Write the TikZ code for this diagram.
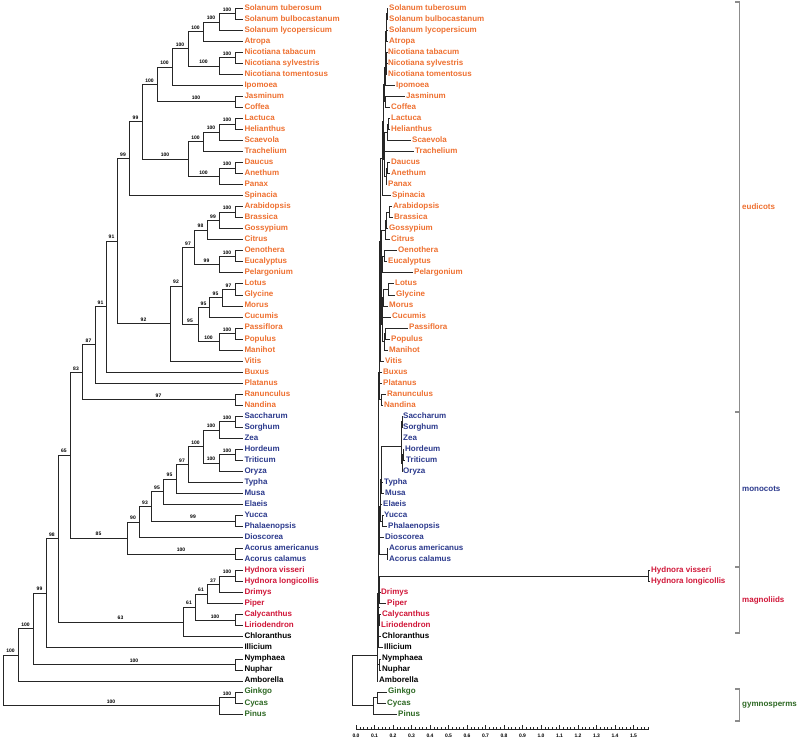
\documentclass[tikz,border=0pt]{standalone}
\usepackage{fontspec}
\setmainfont{Liberation Sans}
\usetikzlibrary{calc}

\definecolor{eud}{RGB}{238,112,48}
\definecolor{mon}{RGB}{43,57,140}
\definecolor{mag}{RGB}{208,22,56}
\definecolor{gym}{RGB}{45,104,35}
\definecolor{basal}{RGB}{0,0,0}

\tikzset{
  branch/.style={draw=black!85, line width=0.55pt},
  leaf/.style={anchor=west, inner sep=1pt, font=\fontsize{8}{9.6}\selectfont\bfseries,
    text height=5.8pt, text depth=1.6pt},
  boot/.style={pos=.75, above=1.2pt, inner sep=0.6pt, font=\fontsize{5}{6}\selectfont\bfseries},
  cladelab/.style={anchor=west, inner sep=0pt, font=\fontsize{8}{9.6}\selectfont\bfseries},
  bracket/.style={draw=black!45, line width=1.1pt},
  scalelab/.style={inner sep=0pt, font=\fontsize{5}{6}\selectfont\bfseries}
}

% clade: name, x, first child, its support, second child, its support
\newcommand\clade[6]{%
  \path let \p1=(#3), \p2=(#5) in coordinate (#1) at (#2pt,{0.5*\y1+0.5*\y2});
  \draw[branch] (#1) |- node[boot]{#4} (#3);
  \draw[branch] (#1) |- node[boot]{#6} (#5);
}

\begin{document}
\begin{tikzpicture}[x=1pt, y=-1pt]
\useasboundingbox (0,0) rectangle (800,740);

% taxa, left (cladogram) and right (phylogram)
\foreach \n/\lab/\col/\rx [count=\i from 0] in {
  soltub/Solanum tuberosum/eud/389, solbul/Solanum bulbocastanum/eud/389,
  sollyc/Solanum lycopersicum/eud/389, atropa/Atropa/eud/389,
  nictab/Nicotiana tabacum/eud/388, nicsyl/Nicotiana sylvestris/eud/388,
  nictom/Nicotiana tomentosus/eud/388, ipomoea/Ipomoea/eud/396,
  jasmin/Jasminum/eud/406, coffea/Coffea/eud/391,
  lactuca/Lactuca/eud/391, helian/Helianthus/eud/391,
  scaev/Scaevola/eud/412, trach/Trachelium/eud/415,
  daucus/Daucus/eud/391, aneth/Anethum/eud/391,
  panax/Panax/eud/388, spinac/Spinacia/eud/392,
  arabid/Arabidopsis/eud/393, brass/Brassica/eud/394,
  gossyp/Gossypium/eud/389, citrus/Citrus/eud/391,
  oenoth/Oenothera/eud/398, eucal/Eucalyptus/eud/388,
  pelarg/Pelargonium/eud/414, lotus/Lotus/eud/395,
  glycine/Glycine/eud/396, morus/Morus/eud/389,
  cucum/Cucumis/eud/392, passif/Passiflora/eud/409,
  populus/Populus/eud/391, manihot/Manihot/eud/389,
  vitis/Vitis/eud/385, buxus/Buxus/eud/383,
  platan/Platanus/eud/383, ranunc/Ranunculus/eud/387,
  nandina/Nandina/eud/384, sacch/Saccharum/mon/403,
  sorgh/Sorghum/mon/403, zea/Zea/mon/403,
  hordeum/Hordeum/mon/405, tritic/Triticum/mon/406,
  oryza/Oryza/mon/403, typha/Typha/mon/384,
  musa/Musa/mon/385, elaeis/Elaeis/mon/383,
  yucca/Yucca/mon/384, phalaen/Phalaenopsis/mon/388,
  diosc/Dioscorea/mon/385, acoram/Acorus americanus/mon/389,
  acorcal/Acorus calamus/mon/389, hydvis/Hydnora visseri/mag/651,
  hydlon/Hydnora longicollis/mag/651, drimys/Drimys/mag/381,
  piper/Piper/mag/387, calyc/Calycanthus/mag/382,
  lirio/Liriodendron/mag/381, chlor/Chloranthus/basal/382,
  illic/Illicium/basal/384, nymph/Nymphaea/basal/382,
  nuphar/Nuphar/basal/382, ambor/Amborella/basal/379,
  ginkgo/Ginkgo/gym/388, cycas/Cycas/gym/387, pinus/Pinus/gym/398}
{
  \node[leaf, text=\col] (\n) at (243.3,{8+11.03*\i}) {\lab};
  \node[leaf, text=\col] (r\n) at ({\rx-1},{8+11.03*\i}) {\lab};
}

% left tree with bootstrap values
\clade{a1}{235}{soltub.west}{}{solbul.west}{}
\clade{a2}{219}{a1}{100}{sollyc.west}{}
\clade{a3}{203}{a2}{100}{atropa.west}{}
\clade{a4}{235}{nictab.west}{}{nicsyl.west}{}
\clade{a5}{219}{a4}{100}{nictom.west}{}
\clade{a6}{188}{a3}{100}{a5}{100}
\clade{a7}{172}{a6}{100}{ipomoea.west}{}
\clade{a8}{235}{jasmin.west}{}{coffea.west}{}
\clade{a9}{157}{a7}{100}{a8}{100}
\clade{b1}{235}{lactuca.west}{}{helian.west}{}
\clade{b2}{219}{b1}{100}{scaev.west}{}
\clade{b3}{203}{b2}{100}{trach.west}{}
\clade{b4}{235}{daucus.west}{}{aneth.west}{}
\clade{b5}{219}{b4}{100}{panax.west}{}
\clade{b6}{188}{b3}{100}{b5}{100}
\clade{b7}{142}{a9}{100}{b6}{100}
\clade{b8}{129}{b7}{99}{spinac.west}{}
\clade{c1}{235}{arabid.west}{}{brass.west}{}
\clade{c2}{219}{c1}{100}{gossyp.west}{}
\clade{c3}{207}{c2}{99}{citrus.west}{}
\clade{c4}{235}{oenoth.west}{}{eucal.west}{}
\clade{c5}{219}{c4}{100}{pelarg.west}{}
\clade{c6}{194}{c3}{98}{c5}{99}
\clade{c7}{235}{lotus.west}{}{glycine.west}{}
\clade{c8}{222}{c7}{97}{morus.west}{}
\clade{c9}{209}{c8}{95}{cucum.west}{}
\clade{c10}{235}{passif.west}{}{populus.west}{}
\clade{c11}{219}{c10}{100}{manihot.west}{}
\clade{c12}{198}{c9}{95}{c11}{100}
\clade{c13}{182}{c6}{97}{c12}{95}
\clade{c14}{170}{c13}{92}{vitis.west}{}
\clade{d1}{117}{b8}{99}{c14}{92}
\clade{d2}{106}{d1}{91}{buxus.west}{}
\clade{d3}{95}{d2}{91}{platan.west}{}
\clade{d4}{235}{ranunc.west}{}{nandina.west}{}
\clade{d5}{82}{d3}{87}{d4}{97}
\clade{e1}{235}{sacch.west}{}{sorgh.west}{}
\clade{e2}{219}{e1}{100}{zea.west}{}
\clade{e3}{235}{hordeum.west}{}{tritic.west}{}
\clade{e4}{219}{e3}{100}{oryza.west}{}
\clade{e5}{203}{e2}{100}{e4}{100}
\clade{e6}{188}{e5}{100}{typha.west}{}
\clade{e7}{176}{e6}{97}{musa.west}{}
\clade{e8}{163}{e7}{95}{elaeis.west}{}
\clade{e9}{235}{yucca.west}{}{phalaen.west}{}
\clade{e10}{151}{e8}{95}{e9}{99}
\clade{e11}{139}{e10}{93}{diosc.west}{}
\clade{e12}{235}{acoram.west}{}{acorcal.west}{}
\clade{e13}{127}{e11}{90}{e12}{100}
\clade{f1}{235}{hydvis.west}{}{hydlon.west}{}
\clade{f2}{219}{f1}{100}{drimys.west}{}
\clade{f3}{207}{f2}{37}{piper.west}{}
\clade{f4}{235}{calyc.west}{}{lirio.west}{}
\clade{f5}{195}{f3}{61}{f4}{100}
\clade{f6}{183}{f5}{61}{chlor.west}{}
\clade{g1}{70}{d5}{83}{e13}{85}
\clade{g2}{58}{g1}{65}{f6}{63}
\clade{g3}{46}{g2}{98}{illic.west}{}
\clade{h1}{235}{nymph.west}{}{nuphar.west}{}
\clade{g4}{33}{g3}{99}{h1}{100}
\clade{g5}{18}{g4}{100}{ambor.west}{}
\clade{k1}{235}{ginkgo.west}{}{cycas.west}{}
\clade{k2}{219}{k1}{100}{pinus.west}{}
\clade{g6}{3}{g5}{100}{k2}{100}

% right tree, branch lengths
\clade{ra1}{387}{rsoltub.west}{}{rsolbul.west}{}
\clade{ra2}{386.5}{ra1}{}{rsollyc.west}{}
\clade{ra3}{386}{ra2}{}{ratropa.west}{}
\clade{ra4}{386.5}{rnictab.west}{}{rnicsyl.west}{}
\clade{ra5}{386}{ra4}{}{rnictom.west}{}
\clade{ra6}{385.5}{ra3}{}{ra5}{}
\clade{ra7}{385}{ra6}{}{ripomoea.west}{}
\clade{ra8}{385}{rjasmin.west}{}{rcoffea.west}{}
\clade{ra9}{384}{ra7}{}{ra8}{}
\clade{rb1}{388}{rlactuca.west}{}{rhelian.west}{}
\clade{rb2}{387}{rb1}{}{rscaev.west}{}
\clade{rb3}{384.5}{rb2}{}{rtrach.west}{}
\clade{rb4}{387.5}{rdaucus.west}{}{raneth.west}{}
\clade{rb5}{386}{rb4}{}{rpanax.west}{}
\clade{rb6}{384}{rb3}{}{rb5}{}
\clade{rb7}{383}{ra9}{}{rb6}{}
\clade{rb8}{382}{rb7}{}{rspinac.west}{}
\clade{rc1}{389.5}{rarabid.west}{}{rbrass.west}{}
\clade{rc2}{386}{rc1}{}{rgossyp.west}{}
\clade{rc3}{385}{rc2}{}{rcitrus.west}{}
\clade{rc4}{384.5}{roenoth.west}{}{reucal.west}{}
\clade{rc5}{382}{rc4}{}{rpelarg.west}{}
\clade{rc6}{381.5}{rc3}{}{rc5}{}
\clade{rc7}{388}{rlotus.west}{}{rglycine.west}{}
\clade{rc8}{383}{rc7}{}{rmorus.west}{}
\clade{rc9}{382.5}{rc8}{}{rcucum.west}{}
\clade{rc10}{385}{rpassif.west}{}{rpopulus.west}{}
\clade{rc11}{384}{rc10}{}{rmanihot.west}{}
\clade{rc12}{382}{rc9}{}{rc11}{}
\clade{rc13}{381}{rc6}{}{rc12}{}
\clade{rc14}{380.5}{rc13}{}{rvitis.west}{}
\clade{rd1}{380}{rb8}{}{rc14}{}
\clade{rd2}{379.7}{rd1}{}{rbuxus.west}{}
\clade{rd3}{379.4}{rd2}{}{rplatan.west}{}
\clade{rd4}{381}{rranunc.west}{}{rnandina.west}{}
\clade{rd5}{379}{rd3}{}{rd4}{}
\clade{re1}{401.8}{rsacch.west}{}{rsorgh.west}{}
\clade{re2}{401.3}{re1}{}{rzea.west}{}
\clade{re3}{403}{rhordeum.west}{}{rtritic.west}{}
\clade{re4}{401.8}{re3}{}{roryza.west}{}
\clade{re5}{400.8}{re2}{}{re4}{}
\clade{re6}{381.5}{re5}{}{rtypha.west}{}
\clade{re7}{381}{re6}{}{rmusa.west}{}
\clade{re8}{380.5}{re7}{}{relaeis.west}{}
\clade{re9}{382.5}{ryucca.west}{}{rphalaen.west}{}
\clade{re10}{380}{re8}{}{re9}{}
\clade{re11}{379.5}{re10}{}{rdiosc.west}{}
\clade{re12}{387}{racoram.west}{}{racorcal.west}{}
\clade{re13}{378.8}{re11}{}{re12}{}
\clade{rf1}{648}{rhydvis.west}{}{rhydlon.west}{}
\clade{rf2}{379.5}{rf1}{}{rdrimys.west}{}
\clade{rf3}{379}{rf2}{}{rpiper.west}{}
\clade{rf4}{379}{rcalyc.west}{}{rlirio.west}{}
\clade{rf5}{378.7}{rf3}{}{rf4}{}
\clade{rf6}{378.5}{rf5}{}{rchlor.west}{}
\clade{rg1}{378.6}{rd5}{}{re13}{}
\clade{rg2}{378.3}{rg1}{}{rf6}{}
\clade{rg3}{378}{rg2}{}{rillic.west}{}
\clade{rh1}{379}{rnymph.west}{}{rnuphar.west}{}
\clade{rg4}{377.5}{rg3}{}{rh1}{}
\clade{rg5}{377}{rg4}{}{rambor.west}{}
\clade{rk1}{377}{rginkgo.west}{}{rcycas.west}{}
\clade{rk2}{373}{rk1}{}{rpinus.west}{}
\clade{rg6}{352}{rg5}{}{rk2}{}

% scale bar
\draw[branch] (356,729.5) -- (648.3,729.5);
\foreach \k in {0,...,79}
  \draw[branch, line width=0.4pt] ({356+3.7*\k},729.5) -- ++(0,-2.5);
\foreach \v [count=\k from 0] in {0.0,0.1,0.2,0.3,0.4,0.5,0.6,0.7,0.8,0.9,1.0,1.1,1.2,1.3,1.4,1.5} {
  \draw[branch] ({356+18.5*\k},729.5) -- ++(0,-4.5);
  \node[scalelab] (s\k) at ({356+18.5*\k},736) {\v};
}

% clade brackets
\draw[bracket] (735,2) -- (739.5,2) -- (739.5,412) -- (735,412);
\draw[bracket] (739.5,412) -- (739.5,567) -- (735,567);
\draw[bracket] (739.5,567) -- (739.5,633) -- (735,633);
\draw[bracket] (735,689) -- (739.5,689) -- (739.5,721) -- (735,721);
\node[cladelab, text=eud] (eudicots) at (742,207) {eudicots};
\node[cladelab, text=mon] (monocots) at (742,489) {monocots};
\node[cladelab, text=mag] (magnoliids) at (742,600) {magnoliids};
\node[cladelab, text=gym] (gymnosperms) at (742,705) {gymnosperms};
\end{tikzpicture}
\end{document}
